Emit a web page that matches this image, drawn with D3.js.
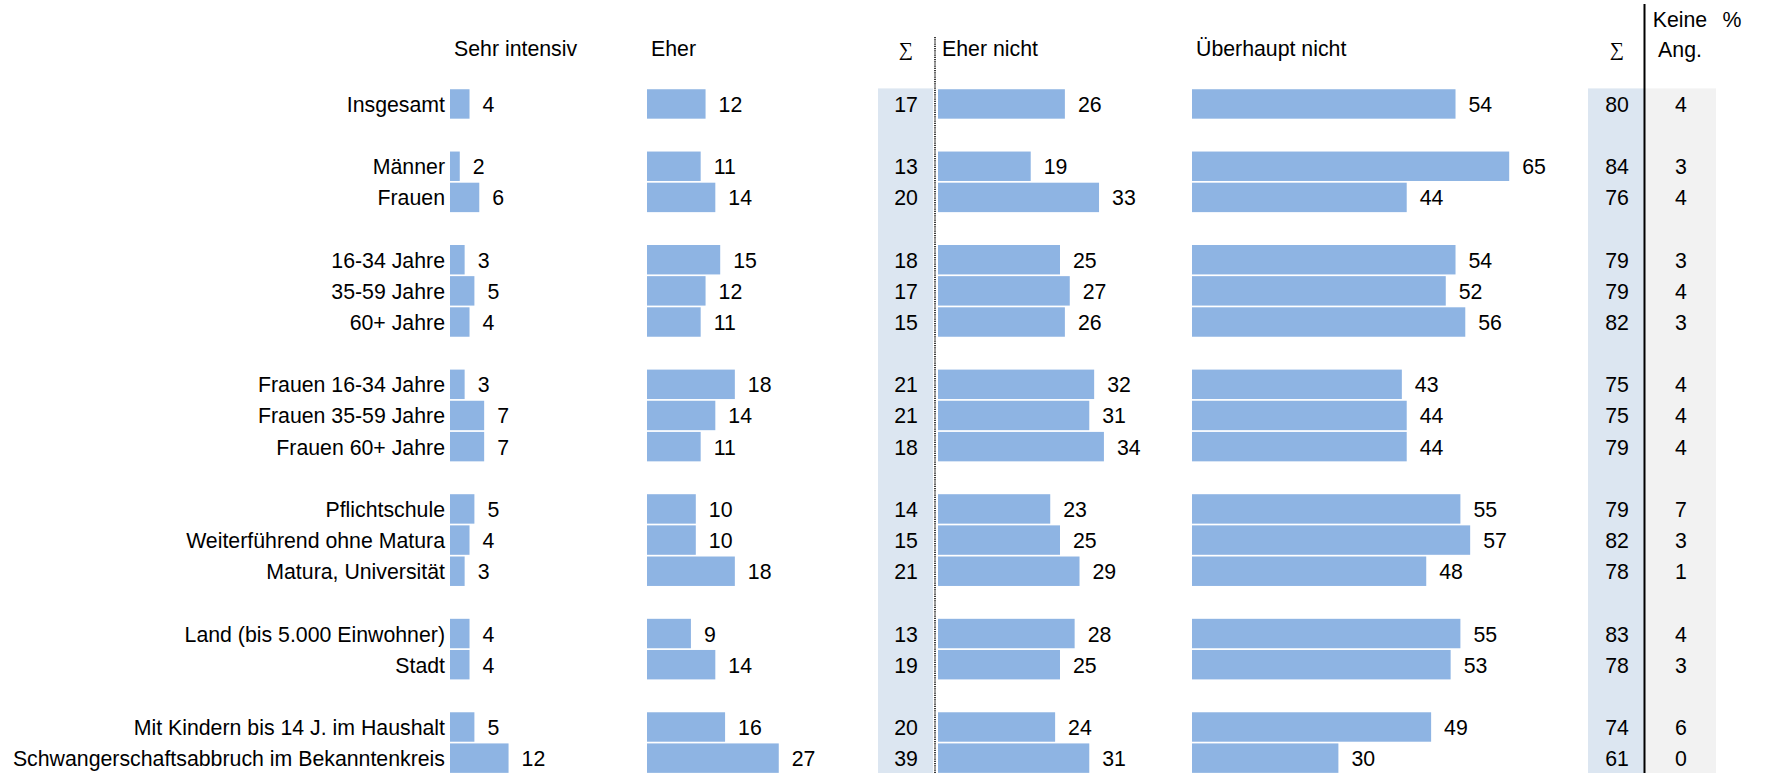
<!DOCTYPE html>
<html>
<head>
<meta charset="utf-8">
<script src="https://cdnjs.cloudflare.com/ajax/libs/d3/7.8.5/d3.min.js"></script>
<style>
  html, body { margin: 0; padding: 0; background: #ffffff; }
  svg { display: block; }
  text { font-family: "Liberation Sans", Arial, sans-serif; fill: #000; }
</style>
</head>
<body>
<svg id="chart" width="1775" height="773"></svg>
<script>
// Row labels, grouped by breakdown (an empty row separates the groups)
const groups = [
  ["Insgesamt"],
  ["Männer", "Frauen"],
  ["16-34 Jahre", "35-59 Jahre", "60+ Jahre"],
  ["Frauen 16-34 Jahre", "Frauen 35-59 Jahre", "Frauen 60+ Jahre"],
  ["Pflichtschule", "Weiterführend ohne Matura", "Matura, Universität"],
  ["Land (bis 5.000 Einwohner)", "Stadt"],
  ["Mit Kindern bis 14 J. im Haushalt", "Schwangerschaftsabbruch im Bekanntenkreis"]
];

// Shares in percent, one entry per row (same order as the labels above)
const sehrIntensiv    = [4, 2, 6, 3, 5, 4, 3, 7, 7, 5, 4, 3, 4, 4, 5, 12];
const eher            = [12, 11, 14, 15, 12, 11, 18, 14, 11, 10, 10, 18, 9, 14, 16, 27];
const summeIntensiv   = [17, 13, 20, 18, 17, 15, 21, 21, 18, 14, 15, 21, 13, 19, 20, 39];
const eherNicht       = [26, 19, 33, 25, 27, 26, 32, 31, 34, 23, 25, 29, 28, 25, 24, 31];
const ueberhauptNicht = [54, 65, 44, 54, 52, 56, 43, 44, 44, 55, 57, 48, 55, 53, 49, 30];
const summeNicht      = [80, 84, 76, 79, 79, 82, 75, 75, 79, 79, 82, 78, 83, 78, 74, 61];
const keineAngabe     = [4, 3, 4, 3, 4, 3, 4, 4, 4, 7, 3, 1, 4, 3, 6, 0];

// Column headings
const barHeaders = ["Sehr intensiv", "Eher", "Eher nicht", "Überhaupt nicht"];
const sumHeader = "\u2211";
const naHeader = ["Keine", "Ang."];
const unitLabel = "%";

const W = 1775, H = 773;
const svg = d3.select("#chart");

const BAR = "#8eb4e3";
const SUM_BG = "#dce6f1";
const NA_BG = "#f2f2f2";
const FS = 21.3;

// Build slot list: rows plus spacer slots between groups
const categories = groups.flat();
const slots = [];
groups.forEach((g, gi) => {
  g.forEach(c => slots.push(c));
  if (gi < groups.length - 1) slots.push("__gap" + gi);
});

const pitch = 31.15;
const topY = 88.4;
const y = d3.scaleBand()
  .domain(slots)
  .range([topY, topY + slots.length * pitch])
  .paddingInner(0.055)
  .paddingOuter(0.027);

// One linear scale per bar column (same unit width, different origins)
const unit = 4.88;
const colStarts = [450, 647, 938, 1192];
const xScales = colStarts.map(x0 => d3.scaleLinear().domain([0, 100]).range([x0, x0 + 100 * unit]));
const barSeries = [sehrIntensiv, eher, eherNicht, ueberhauptNicht];

// Sum and "no answer" columns
const sum1 = { x0: 878, x1: 933, cx: 906 };
const sum2 = { x0: 1588, x1: 1644, cx: 1617 };
const naCol = { x0: 1645, x1: 1716, cx: 1681 };

// Shaded column backgrounds
svg.append("rect").attr("x", sum1.x0).attr("y", topY).attr("width", sum1.x1 - sum1.x0).attr("height", H - topY).attr("fill", SUM_BG);
svg.append("rect").attr("x", sum2.x0).attr("y", topY).attr("width", sum2.x1 - sum2.x0).attr("height", H - topY).attr("fill", SUM_BG);
svg.append("rect").attr("x", naCol.x0).attr("y", topY).attr("width", naCol.x1 - naCol.x0).attr("height", H - topY).attr("fill", NA_BG);

// Divider between "intensive" and "not intensive"
svg.append("line")
  .attr("x1", 935).attr("x2", 935).attr("y1", 37).attr("y2", H)
  .attr("stroke", "#3a3a3a").attr("stroke-width", 2).attr("stroke-dasharray", "1.2 1");

// Divider before "no answer"
svg.append("line")
  .attr("x1", 1644.5).attr("x2", 1644.5).attr("y1", 4).attr("y2", H)
  .attr("stroke", "#000").attr("stroke-width", 2);

// Headings
const headBase = 56;
barHeaders.forEach((h, i) => {
  svg.append("text").attr("x", xScales[i](0) + 4).attr("y", headBase)
    .attr("font-size", FS).text(h);
});
[sum1.cx, sum2.cx].forEach(cx => {
  svg.append("text").attr("x", cx).attr("y", headBase).attr("text-anchor", "middle")
    .attr("font-size", 20).style("font-family", "'Liberation Serif', 'DejaVu Serif', serif")
    .text(sumHeader);
});
svg.append("text").attr("x", naCol.cx - 1).attr("y", 27).attr("text-anchor", "middle").attr("font-size", FS).text(naHeader[0]);
svg.append("text").attr("x", naCol.cx - 1).attr("y", 57).attr("text-anchor", "middle").attr("font-size", FS).text(naHeader[1]);
svg.append("text").attr("x", 1732).attr("y", 27).attr("text-anchor", "middle").attr("font-size", FS).text(unitLabel);

const mid = c => y(c) + y.bandwidth() / 2;
const textDy = 8;

// Row labels
svg.append("g").selectAll("text").data(categories).join("text")
  .attr("x", 445).attr("y", c => mid(c) + textDy)
  .attr("text-anchor", "end").attr("font-size", FS)
  .text(c => c);

// Bars with value labels
barSeries.forEach((series, i) => {
  const xs = xScales[i];
  const g = svg.append("g");
  g.selectAll("rect").data(series).join("rect")
    .attr("x", xs(0))
    .attr("y", (d, k) => y(categories[k]))
    .attr("width", d => xs(d) - xs(0))
    .attr("height", y.bandwidth())
    .attr("fill", BAR);
  g.selectAll("text").data(series).join("text")
    .attr("x", d => xs(d) + 13)
    .attr("y", (d, k) => mid(categories[k]) + textDy)
    .attr("font-size", FS)
    .text(d => d);
});

// Sum and "no answer" values
[[summeIntensiv, sum1.cx], [summeNicht, sum2.cx], [keineAngabe, naCol.cx]].forEach(([series, cx]) => {
  svg.append("g").selectAll("text").data(series).join("text")
    .attr("x", cx)
    .attr("y", (d, k) => mid(categories[k]) + textDy)
    .attr("text-anchor", "middle").attr("font-size", FS)
    .text(d => d);
});
</script>
</body>
</html>
